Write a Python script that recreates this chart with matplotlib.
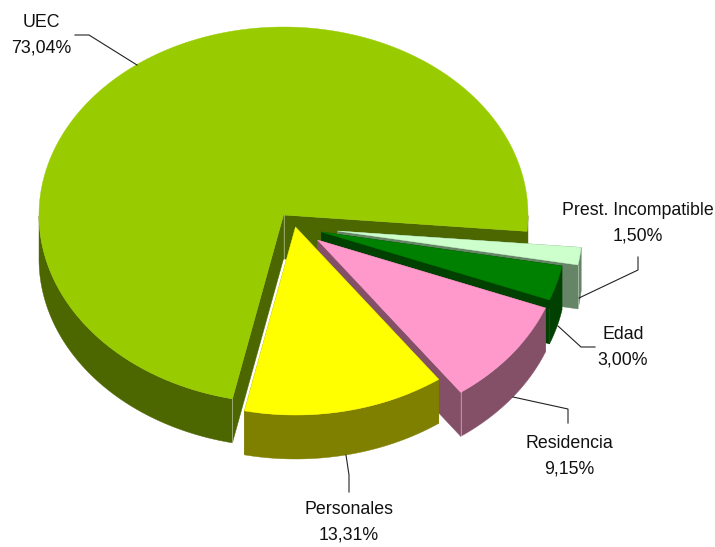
import numpy as np
import matplotlib
matplotlib.use("Agg")
import matplotlib.pyplot as plt

labels = ["UEC", "Personales", "Residencia", "Edad", "Prest. Incompatible"]
values = [73.04, 13.31, 9.15, 3.00, 1.50]
top_colors = ["#99CC00", "#FFFF00", "#FF99CC", "#008000", "#CCFFCC"]
side_colors = ["#4C6600", "#808000", "#845068", "#004000", "#668566"]

# how far each slice is pulled away from the centre (pixels)
explode_x = [0, 12, 34, 38, 54]
explode_y = [0, 12, 25, 17, 16]

# pie geometry, in pixels of the 715x547 picture
cx, cy = 283.5, 215
rx, ry = 244.5, 188
depth = 44
start_angle = -5.0

# label block centres and leader lines
label_x = [41, 349, 569, 623, 638]
label_y = [35, 522, 456, 347, 223]
leaders = [
    ([75, 89, 137], [35, 35, 65]),
    ([349, 349, 346], [492, 475, 455]),
    ([568, 568, 513], [423, 409, 397]),
    ([595, 581, 558], [347, 347, 326]),
    ([638, 638, 579], [257, 270, 298]),
]
# back slices are painted first
draw_order = [0, 4, 3, 2, 1]

fig = plt.figure(figsize=(7.15, 5.47), dpi=100)
ax = fig.add_axes([0, 0, 1, 1])
ax.set_xlim(0, 715)
ax.set_ylim(547, 0)
ax.axis("off")

sweeps = np.array(values) / sum(values) * 360
starts = start_angle + np.concatenate([[0], np.cumsum(sweeps)[:-1]])


def rim(i, angle):
    t = np.radians(angle)
    return cx + explode_x[i] + rx * np.cos(t), cy + explode_y[i] - ry * np.sin(t)


def draw_slice(i):
    angles = np.linspace(starts[i], starts[i] + sweeps[i], 600)
    x, y = rim(i, angles)
    ax0, ay0 = cx + explode_x[i], cy + explode_y[i]

    # outer wall, only the part that faces the viewer
    front = angles[np.sin(np.radians(angles)) <= 0]
    breaks = np.where(np.diff(front) > 1)[0] + 1
    for run in np.split(front, breaks):
        if len(run) < 2:
            continue
        wx, wy = rim(i, run)
        ax.fill(np.r_[wx, wx[::-1]], np.r_[wy, wy[::-1] + depth], color=side_colors[i], lw=0.3)
    # the two cut faces
    for k in [0, -1]:
        ax.fill([ax0, x[k], x[k], ax0], [ay0, y[k], y[k] + depth, ay0 + depth],
                color=side_colors[i], lw=0.3)
    ax.fill(np.r_[ax0, x], np.r_[ay0, y], color=top_colors[i], lw=0.3)
    return x, y, ax0, ay0


for i in draw_order:
    x, y, ax0, ay0 = draw_slice(i)
    # light edge lines on the visible corners
    if labels[i] == "UEC":
        ax.plot([x[-1], x[-1]], [y[-1], y[-1] + depth], color="white", lw=0.7, alpha=0.4)
        ax.plot([ax0, ax0], [ay0, ay0 + depth], color="white", lw=0.7, alpha=0.4)
    if labels[i] == "Residencia":
        ax.plot([x[0], x[0]], [y[0], y[0] + depth], color="white", lw=0.7, alpha=0.4)
    if labels[i] == "Prest. Incompatible":
        ax.plot([x[0], x[0]], [y[0], y[0] + depth], color="white", lw=0.7, alpha=0.4)

for lx, ly in leaders:
    ax.plot(lx, ly, color="#222222", lw=0.8, solid_joinstyle="miter")

for i in range(len(labels)):
    pct = f"{values[i]:.2f}".replace(".", ",") + "%"
    ax.text(label_x[i], label_y[i], labels[i] + "\n" + pct, ha="center", va="center",
            ma="center", family="Liberation Sans", fontsize=12.8, linespacing=1.62,
            color="#111111")

fig.savefig("out.png", dpi=100)
